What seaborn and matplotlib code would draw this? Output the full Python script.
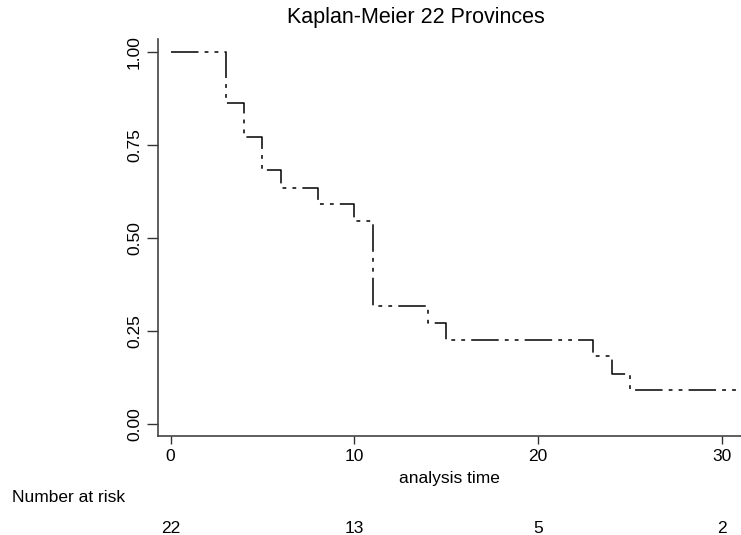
import matplotlib
matplotlib.use("Agg")
import matplotlib.pyplot as plt
import seaborn as sns
import pandas as pd

sns.set_style("white")
plt.rcParams["font.family"] = ["Liberation Sans", "DejaVu Sans"]
plt.rcParams["text.color"] = "black"
plt.rcParams["axes.labelcolor"] = "black"
plt.rcParams["xtick.color"] = "black"
plt.rcParams["ytick.color"] = "black"

# ------------------------------
# Data: Kaplan-Meier step function
# ------------------------------
times = [0, 3, 4, 5, 6, 8, 10, 11, 14, 15, 23, 24, 25, 31]
survival = [1.0, 0.864, 0.773, 0.682, 0.636, 0.591, 0.545,
            0.318, 0.273, 0.227, 0.182, 0.136, 0.091, 0.091]

risk_times = [0, 10, 20, 30]
at_risk = [22, 13, 5, 2]

df = pd.DataFrame({"time": times, "surv": survival})

# ------------------------------
# Figure
# ------------------------------
fig = plt.figure(figsize=(7.41, 5.35), dpi=100)
ax = fig.add_axes([0.2132, 0.185, 0.7868, 0.742])

sns.lineplot(data=df, x="time", y="surv", ax=ax, color="black",
             drawstyle="steps-post", linewidth=1.1,
             linestyle=(0, (18, 4, 2.5, 4, 2.5, 4)))

ax.set_xlim(-0.69, 31.05)
ax.set_ylim(-0.032, 1.035)
ax.set_xticks([0, 10, 20, 30])
ax.set_yticks([0, 0.25, 0.5, 0.75, 1.0])
ax.set_yticklabels(["0.00", "0.25", "0.50", "0.75", "1.00"],
                   rotation=90, va="center")
ax.tick_params(axis="both", direction="out", length=6, width=1,
               color="#333333", labelsize=12.5, left=True, bottom=True)
ax.tick_params(axis="y", length=8)
ax.set_xlabel("analysis time", fontsize=12.5, labelpad=5)
ax.set_ylabel("")

sns.despine(ax=ax, top=True, right=True)
for s in ["left", "bottom"]:
    ax.spines[s].set_color("#444444")
    ax.spines[s].set_linewidth(1.2)

fig.text(416 / 741, 1 - 18 / 535, "Kaplan-Meier 22 Provinces",
         ha="center", va="center", fontsize=15.5)

# Number at risk table
fig.text(12 / 741, 1 - 498 / 535, "Number at risk",
         ha="left", va="center", fontsize=12.5)
for t, n in zip(risk_times, at_risk):
    ax.text(t, -0.232, str(n), transform=ax.get_xaxis_transform(),
            ha="center", va="center", fontsize=12.5)

fig.savefig("out.png", dpi=100)
